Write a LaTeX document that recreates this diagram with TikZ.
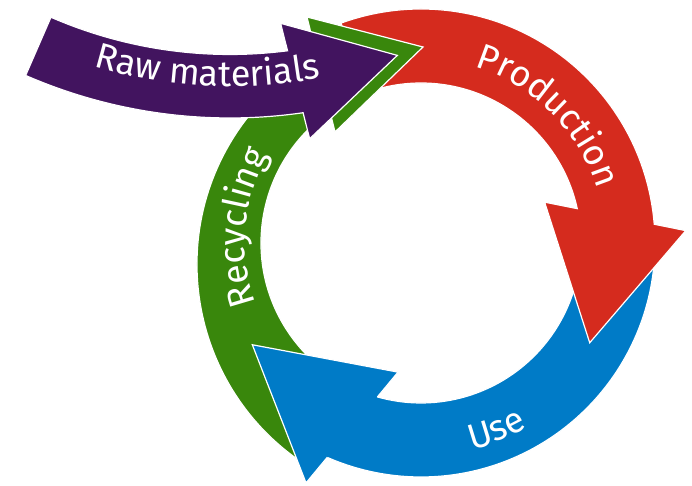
\documentclass[tikz,border=0pt]{standalone}
\usepackage{fontspec}
\setmainfont{Fira Sans}
\usetikzlibrary{decorations.text}
\definecolor{cpurple}{HTML}{42145F}
\definecolor{cred}{HTML}{D52B1E}
\definecolor{cblue}{HTML}{007BC7}
\definecolor{cgreen}{HTML}{39870C}
\newcommand\lblfont{\fontsize{36pt}{40pt}\selectfont}
\begin{document}
\begin{tikzpicture}[
  band/.style={draw=white, line width=1.2pt, line join=miter},
  lbl/.style={decorate, decoration={text along path, text align=center, text color=white}}
]
\useasboundingbox (0,0) rectangle (692pt,486pt);
\begin{scope}[shift={(421pt,243pt)}]
  % Use (blue)
  \path[fill=cblue, band] (-5:234pt) arc[start angle=-5, end angle=-113.63, radius=234pt]
    -- (-114.98pt,-239.93pt) -- (-168.69pt,-101.75pt) -- (-23.00pt,-129.13pt)
    -- (-105.81:160pt) arc[start angle=-105.81, end angle=-5, radius=160pt] -- cycle;
  % Production (red)
  \path[fill=cred, band] (110:234pt) arc[start angle=110, end angle=4.6, radius=234pt]
    -- (264.77pt,12.37pt) -- (168.71pt,-99.77pt) -- (123.61pt,40.83pt)
    -- (12.4:160pt) arc[start angle=12.4, end angle=110, radius=160pt] -- cycle;
\end{scope}
% Recycling (green)
\path[fill=cgreen, band] (302.35pt,23.36pt) arc[start angle=236, end angle=119.9, radius=239pt]
  -- (307pt,469pt) -- (423pt,439pt) -- (335pt,354pt)
  -- (329.9pt,374.55pt) arc[start angle=124.7, end angle=240, radius=160pt] -- cycle;
\begin{scope}[shift={(421pt,243pt)}]
  % blue head on top of the green tail
  \fill[cblue] (-113.63:234pt) -- (-114.98pt,-239.93pt) -- (-168.69pt,-101.75pt)
    -- (-23.00pt,-129.13pt) -- (-105.81:160pt) -- cycle;
  \draw[white, line width=1.2pt] (-113.63:234pt) -- (-114.98pt,-239.93pt) -- (-168.69pt,-101.75pt)
    -- (-23.00pt,-129.13pt) -- (-105.81:160pt);
  % labels
  \path[lbl, decoration={text={|\lblfont|Production}}] (95:184pt) arc[start angle=95, end angle=-5, radius=184pt];
  \path[lbl, decoration={text={|\lblfont|Use}}] (-118:213pt) arc[start angle=-118, end angle=-18, radius=213pt];
  \path[lbl, decoration={text={|\lblfont|Recycling}}] (240:176pt) arc[start angle=240, end angle=110, radius=176pt];
\end{scope}
% Raw materials (purple)
\begin{scope}[shift={(230pt,880.5pt)}]
  \path[fill=cpurple, band] (-113.5:449pt) arc[start angle=-113.5, end angle=-82.64, radius=449pt]
    -- (50.64pt,-417.85pt) -- (167.32pt,-449.9pt) -- (79.64pt,-533.27pt)
    -- (-81.8:512.5pt) arc[start angle=-81.8, end angle=-113.5, radius=512.5pt] -- cycle;
  \path[lbl, decoration={text={|\lblfont|Raw materials}}] (-115:481pt) arc[start angle=-115, end angle=-70.6, radius=481pt];
\end{scope}
\end{tikzpicture}
\end{document}
